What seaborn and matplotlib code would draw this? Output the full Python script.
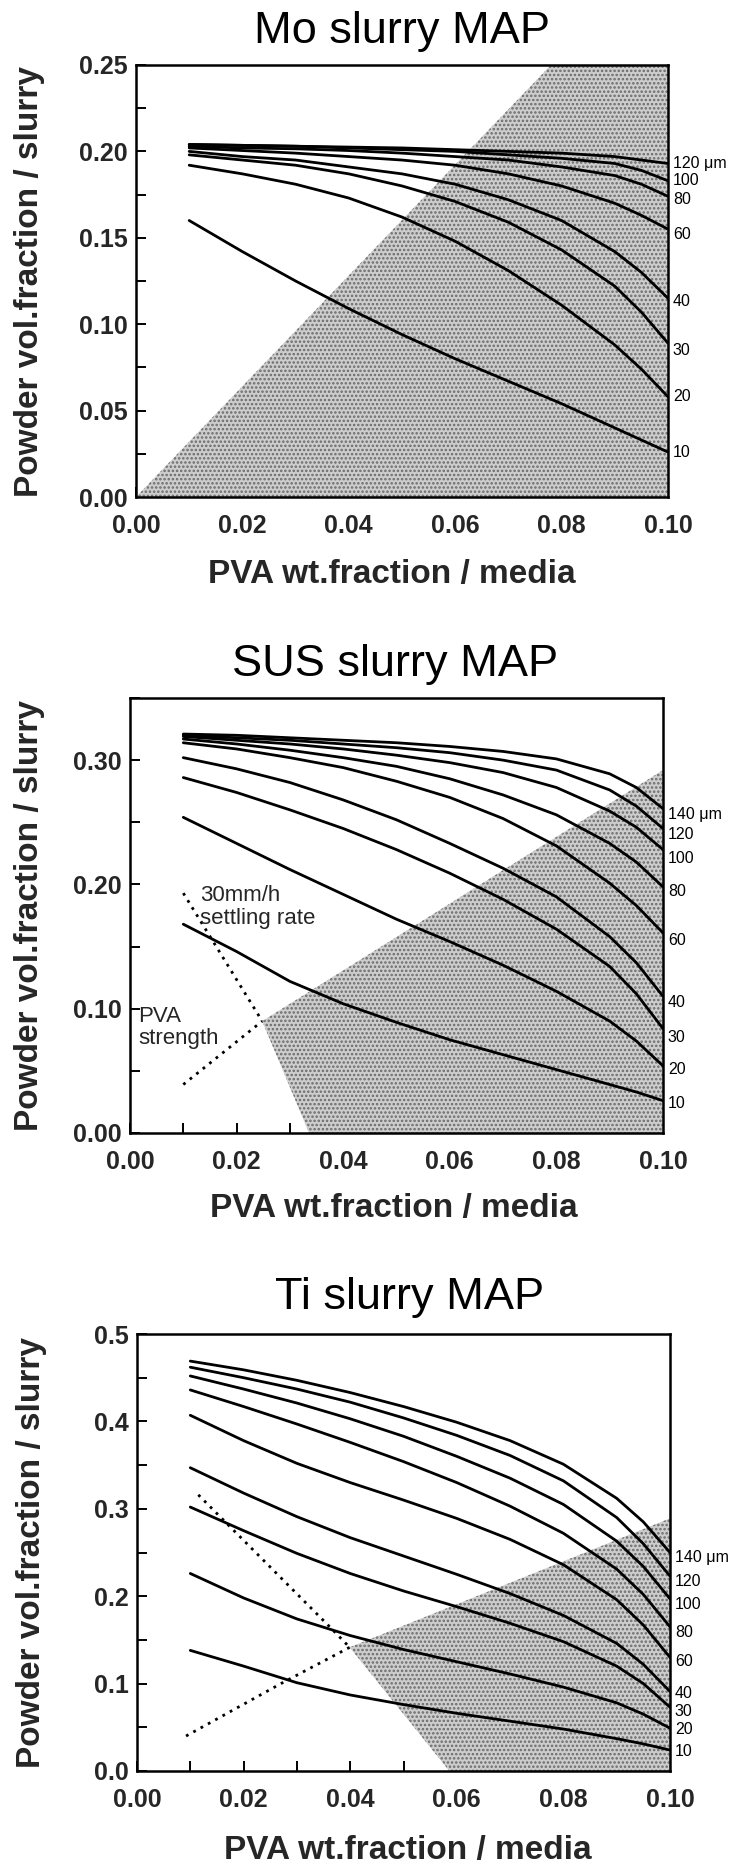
import numpy as np
import pandas as pd
import matplotlib
matplotlib.use("Agg")
import matplotlib.pyplot as plt
from matplotlib.ticker import MultipleLocator, FormatStrFormatter
import seaborn as sns

# ---------------------------------------------------------------- data
pva = [0.01, 0.02, 0.03, 0.04, 0.05, 0.06, 0.07, 0.08, 0.09, 0.095, 0.10]

mo_sizes = [120, 100, 80, 60, 40, 30, 20, 10]
mo_120 = [0.204, 0.2035, 0.203, 0.2025, 0.202, 0.201, 0.200, 0.199, 0.197, 0.195, 0.193]
mo_100 = [0.204, 0.2035, 0.203, 0.202, 0.201, 0.200, 0.198, 0.196, 0.193, 0.189, 0.183]
mo_80 = [0.203, 0.202, 0.2015, 0.2005, 0.199, 0.197, 0.195, 0.191, 0.186, 0.181, 0.174]
mo_60 = [0.202, 0.2005, 0.199, 0.197, 0.195, 0.192, 0.187, 0.180, 0.170, 0.163, 0.155]
mo_40 = [0.200, 0.197, 0.195, 0.191, 0.187, 0.181, 0.172, 0.160, 0.142, 0.130, 0.115]
mo_30 = [0.198, 0.195, 0.192, 0.187, 0.180, 0.171, 0.159, 0.143, 0.122, 0.107, 0.089]
mo_20 = [0.192, 0.187, 0.181, 0.173, 0.162, 0.148, 0.131, 0.111, 0.088, 0.074, 0.058]
mo_10 = [0.160, 0.142, 0.125, 0.109, 0.094, 0.080, 0.067, 0.054, 0.040, 0.033, 0.026]
mo_label_y = [0.193, 0.183, 0.172, 0.152, 0.113, 0.085, 0.058, 0.026]
mo_region_x = [0.0, 0.078, 0.10, 0.10]
mo_region_y = [0.0, 0.25, 0.25, 0.0]

sus_sizes = [140, 120, 100, 80, 60, 40, 30, 20, 10]
sus_140 = [0.321, 0.320, 0.318, 0.316, 0.314, 0.311, 0.307, 0.301, 0.289, 0.278, 0.261]
sus_120 = [0.320, 0.318, 0.316, 0.313, 0.310, 0.306, 0.300, 0.292, 0.276, 0.263, 0.245]
sus_100 = [0.319, 0.316, 0.313, 0.309, 0.304, 0.298, 0.290, 0.278, 0.259, 0.246, 0.228]
sus_80 = [0.317, 0.313, 0.308, 0.302, 0.295, 0.285, 0.272, 0.256, 0.233, 0.218, 0.198]
sus_60 = [0.314, 0.309, 0.302, 0.294, 0.283, 0.270, 0.253, 0.231, 0.201, 0.183, 0.161]
sus_40 = [0.302, 0.293, 0.282, 0.268, 0.252, 0.233, 0.213, 0.190, 0.158, 0.137, 0.110]
sus_30 = [0.286, 0.274, 0.260, 0.245, 0.228, 0.209, 0.188, 0.164, 0.134, 0.112, 0.084]
sus_20 = [0.254, 0.233, 0.212, 0.192, 0.172, 0.154, 0.135, 0.114, 0.090, 0.074, 0.054]
sus_10 = [0.168, 0.146, 0.122, 0.104, 0.089, 0.075, 0.063, 0.051, 0.039, 0.033, 0.026]
sus_label_y = [0.256, 0.240, 0.221, 0.194, 0.155, 0.105, 0.077, 0.051, 0.024]
sus_settle_x = [0.010, 0.0248]
sus_settle_y = [0.193, 0.090]
sus_strength_x = [0.010, 0.0248]
sus_strength_y = [0.039, 0.090]
sus_region_x = [0.0336, 0.0248, 0.10, 0.10]
sus_region_y = [0.0, 0.090, 0.292, 0.0]

ti_sizes = [140, 120, 100, 80, 60, 40, 30, 20, 10]
ti_140 = [0.469, 0.459, 0.447, 0.433, 0.417, 0.399, 0.378, 0.351, 0.312, 0.285, 0.250]
ti_120 = [0.462, 0.450, 0.437, 0.422, 0.404, 0.384, 0.361, 0.332, 0.290, 0.260, 0.223]
ti_100 = [0.452, 0.437, 0.421, 0.403, 0.383, 0.360, 0.335, 0.305, 0.263, 0.234, 0.197]
ti_80 = [0.436, 0.417, 0.397, 0.376, 0.354, 0.330, 0.303, 0.272, 0.231, 0.202, 0.165]
ti_60 = [0.407, 0.378, 0.352, 0.330, 0.310, 0.289, 0.265, 0.236, 0.196, 0.167, 0.130]
ti_40 = [0.347, 0.318, 0.291, 0.267, 0.246, 0.225, 0.203, 0.178, 0.146, 0.122, 0.091]
ti_30 = [0.302, 0.275, 0.249, 0.226, 0.206, 0.188, 0.169, 0.148, 0.120, 0.100, 0.073]
ti_20 = [0.226, 0.198, 0.174, 0.155, 0.139, 0.125, 0.111, 0.096, 0.078, 0.065, 0.049]
ti_10 = [0.138, 0.120, 0.101, 0.087, 0.076, 0.066, 0.057, 0.048, 0.037, 0.031, 0.024]
ti_label_y = [0.244, 0.217, 0.190, 0.158, 0.1255, 0.089, 0.068, 0.047, 0.022]
ti_settle_x = [0.0115, 0.0355, 0.0399]
ti_settle_y = [0.316, 0.169, 0.1415]
ti_strength_x = [0.0092, 0.027, 0.0399]
ti_strength_y = [0.040, 0.100, 0.1415]
ti_region_x = [0.0586, 0.0399, 0.10, 0.10]
ti_region_y = [0.0, 0.1415, 0.289, 0.0]

x_ticks = [0.00, 0.02, 0.04, 0.06, 0.08, 0.10]

# ---------------------------------------------------------------- style
sns.set_theme(style="ticks")
plt.rcParams["font.family"] = ["Liberation Sans", "DejaVu Sans"]
plt.rcParams["hatch.linewidth"] = 1.2

W, H = 733, 1867
fig = plt.figure(figsize=(W / 100, H / 100), dpi=100)
fig.patch.set_facecolor("white")


def make_axes(left, top, right, bottom):
    return fig.add_axes([left / W, 1 - bottom / H, (right - left) / W, (bottom - top) / H])


def curves_frame(sizes, series):
    rows = []
    for s, ys in zip(sizes, series):
        for xv, yv in zip(pva, ys):
            rows.append({"pva": xv, "vol": yv, "size": s})
    return pd.DataFrame(rows)


def draw_panel(ax, sizes, series, label_y, region_x, region_y, ymax,
               ymajor, yminor, yfmt, title, title_xy, xlabel_xy, ylabel_x):
    ax.fill(region_x, region_y, facecolor="#cdcdcd", edgecolor="#6a6a6a",
            hatch="....", linewidth=0, zorder=1)
    df = curves_frame(sizes, series)
    sns.lineplot(data=df, x="pva", y="vol", hue="size",
                 palette=["black"] * len(sizes), legend=False,
                 estimator=None, sort=False, linewidth=2.0, ax=ax, zorder=3)
    ax.set_xlim(0, 0.10)
    ax.set_ylim(0, ymax)
    ax.set_xticks(x_ticks)
    ax.xaxis.set_major_formatter(FormatStrFormatter("%.2f"))
    ax.xaxis.set_minor_locator(MultipleLocator(0.01))
    ax.yaxis.set_major_locator(MultipleLocator(ymajor))
    ax.yaxis.set_minor_locator(MultipleLocator(yminor))
    ax.yaxis.set_major_formatter(FormatStrFormatter(yfmt))
    ax.tick_params(which="both", direction="in", length=7, width=1.4,
                   color="black", top=False, right=False)
    ax.tick_params(axis="x", which="major", labelsize=18, pad=12)
    ax.tick_params(axis="y", which="major", labelsize=18, pad=6)
    for lab in ax.get_xticklabels() + ax.get_yticklabels():
        lab.set_fontweight("bold")
    for sp in ax.spines.values():
        sp.set_visible(True)
        sp.set_linewidth(1.8)
        sp.set_color("black")
    ax.set_xlabel("")
    ax.set_ylabel("")
    ax.set_facecolor("white")
    # particle-size labels just outside the right spine
    for i, (s, ly) in enumerate(zip(sizes, label_y)):
        txt = f"{s} μm" if i == 0 else f"{s}"
        ax.annotate(txt, xy=(1.0, ly), xycoords=ax.get_yaxis_transform(),
                    xytext=(3.5, 0), textcoords="offset points",
                    ha="left", va="center", fontsize=11.5, color="black",
                    annotation_clip=False)
    fig.text(title_xy[0] / W, 1 - title_xy[1] / H, title, ha="center",
             va="center", fontsize=32.5, color="black")
    fig.text(xlabel_xy[0] / W, 1 - xlabel_xy[1] / H, "PVA wt.fraction / media",
             ha="center", va="center", fontsize=24, fontweight="bold")
    pos = ax.get_position()
    fig.text(ylabel_x / W, pos.y0 + pos.height / 2, "Powder vol.fraction / slurry",
             ha="center", va="center", rotation=90, fontsize=24, fontweight="bold")


# ---------------------------------------------------------------- Mo
ax_mo = make_axes(136, 65, 668, 497)
draw_panel(ax_mo, mo_sizes,
           [mo_120, mo_100, mo_80, mo_60, mo_40, mo_30, mo_20, mo_10],
           mo_label_y, mo_region_x, mo_region_y, 0.25, 0.05, 0.025, "%.2f",
           "Mo slurry MAP", (402, 32), (392, 575), 30)

# ---------------------------------------------------------------- SUS
ax_sus = make_axes(130, 698, 663, 1133)
draw_panel(ax_sus, sus_sizes,
           [sus_140, sus_120, sus_100, sus_80, sus_60, sus_40, sus_30, sus_20, sus_10],
           sus_label_y, sus_region_x, sus_region_y, 0.35, 0.10, 0.05, "%.2f",
           "SUS slurry MAP", (395, 664), (394, 1208), 30)
ax_sus.plot(sus_settle_x, sus_settle_y, color="black", linestyle=(0, (1, 2)),
            linewidth=2.0, zorder=2)
ax_sus.plot(sus_strength_x, sus_strength_y, color="black", linestyle=(0, (1, 2)),
            linewidth=2.0, zorder=2)
ax_sus.text(0.0132, 0.182, "30mm/h\nsettling rate", fontsize=16,
            ha="left", va="center", linespacing=1.1, zorder=4)
ax_sus.text(0.0016, 0.085, "PVA\nstrength", fontsize=16,
            ha="left", va="center", linespacing=1.1, zorder=4)

# ---------------------------------------------------------------- Ti
ax_ti = make_axes(137, 1334, 670, 1771)
draw_panel(ax_ti, ti_sizes,
           [ti_140, ti_120, ti_100, ti_80, ti_60, ti_40, ti_30, ti_20, ti_10],
           ti_label_y, ti_region_x, ti_region_y, 0.5, 0.1, 0.05, "%.1f",
           "Ti slurry MAP", (410, 1297), (408, 1850), 32)
ax_ti.plot(ti_settle_x, ti_settle_y, color="black", linestyle=(0, (1, 2)),
           linewidth=2.0, zorder=2)
ax_ti.plot(ti_strength_x, ti_strength_y, color="black", linestyle=(0, (1, 2)),
           linewidth=2.0, zorder=2)

fig.savefig("out.png", dpi=100, facecolor="white")
